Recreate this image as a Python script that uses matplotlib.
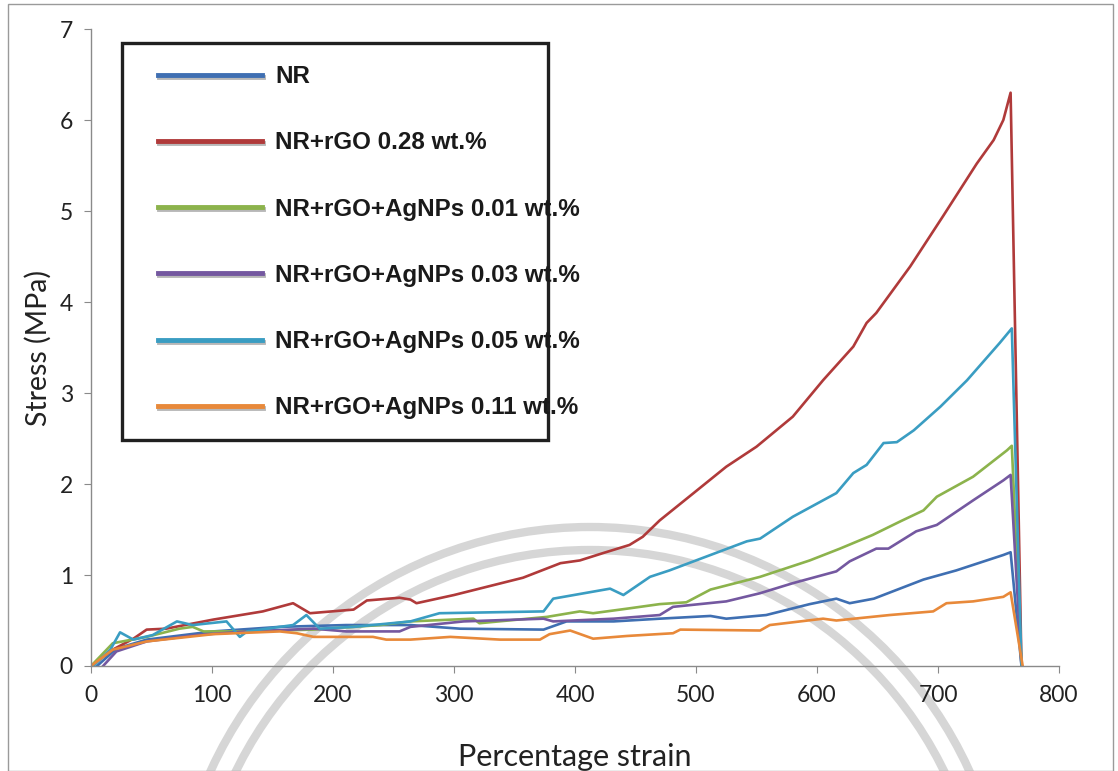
import matplotlib
matplotlib.use("Agg")
import matplotlib.pyplot as plt
import matplotlib.patheffects as pe
from matplotlib.patches import Rectangle, Arc

# ---- tensile test data: percentage strain vs stress (MPa) ----
nr_strain = [5, 21, 46, 101, 156, 211, 264, 305, 374, 393, 432, 470, 512, 525,
             558, 594, 616, 627, 647, 688, 715, 754, 760, 769]
nr_stress = [0, 0.19, 0.29, 0.38, 0.43, 0.45, 0.45, 0.41, 0.40, 0.49, 0.49, 0.52,
             0.55, 0.52, 0.56, 0.68, 0.74, 0.69, 0.74, 0.95, 1.05, 1.22, 1.25, 0]

rgo_strain = [0, 18, 35, 46, 62, 101, 142, 167, 181, 217, 228, 255, 264, 269, 300,
              357, 388, 404, 423, 445, 456, 470, 498, 525, 550, 580, 605, 630, 641,
              649, 677, 704, 732, 746, 754, 760, 769]
rgo_stress = [0, 0.18, 0.30, 0.40, 0.41, 0.51, 0.60, 0.69, 0.58, 0.62, 0.72, 0.75,
              0.73, 0.69, 0.78, 0.97, 1.13, 1.16, 1.24, 1.33, 1.42, 1.60, 1.90, 2.19,
              2.41, 2.74, 3.14, 3.51, 3.77, 3.88, 4.39, 4.94, 5.52, 5.78, 6.0, 6.3, 0]

ag01_strain = [0, 18, 46, 73, 84, 93, 129, 184, 239, 264, 316, 321, 377, 404, 415,
               443, 470, 492, 512, 553, 594, 619, 646, 669, 688, 699, 729, 757, 761, 769]
ag01_stress = [0, 0.25, 0.32, 0.41, 0.43, 0.38, 0.38, 0.40, 0.45, 0.49, 0.52, 0.47,
               0.54, 0.60, 0.58, 0.63, 0.68, 0.70, 0.84, 0.98, 1.16, 1.29, 1.44, 1.59,
               1.71, 1.86, 2.08, 2.37, 2.42, 0]

ag03_strain = [10, 21, 46, 87, 129, 184, 211, 255, 264, 308, 374, 382, 432, 470, 481,
               525, 553, 580, 616, 627, 649, 659, 682, 699, 729, 754, 760, 769]
ag03_stress = [0, 0.16, 0.27, 0.34, 0.38, 0.41, 0.38, 0.38, 0.43, 0.49, 0.52, 0.49,
               0.52, 0.56, 0.65, 0.71, 0.80, 0.91, 1.04, 1.15, 1.29, 1.29, 1.48, 1.55,
               1.82, 2.04, 2.10, 0]

ag05_strain = [2, 16, 24, 35, 51, 71, 84, 112, 123, 129, 167, 178, 189, 217, 264, 288,
               374, 382, 429, 440, 462, 478, 512, 542, 553, 580, 616, 630, 641, 655,
               666, 680, 702, 724, 751, 761, 769]
ag05_stress = [0, 0.18, 0.37, 0.29, 0.34, 0.49, 0.45, 0.49, 0.32, 0.38, 0.45, 0.56,
               0.41, 0.43, 0.49, 0.58, 0.60, 0.74, 0.85, 0.78, 0.98, 1.05, 1.22, 1.37,
               1.40, 1.64, 1.90, 2.12, 2.21, 2.45, 2.46, 2.59, 2.85, 3.14, 3.55, 3.71, 0]

ag11_strain = [0, 18, 46, 101, 156, 170, 184, 233, 244, 264, 297, 338, 371, 379, 396,
               415, 443, 481, 487, 553, 561, 605, 616, 660, 696, 707, 729, 754, 760, 770]
ag11_stress = [0, 0.18, 0.27, 0.35, 0.38, 0.36, 0.32, 0.32, 0.29, 0.29, 0.32, 0.29,
               0.29, 0.35, 0.39, 0.30, 0.33, 0.36, 0.40, 0.39, 0.45, 0.52, 0.50, 0.56,
               0.60, 0.69, 0.71, 0.76, 0.81, 0]

labels = ["NR", "NR+rGO 0.28 wt.%", "NR+rGO+AgNPs 0.01 wt.%",
          "NR+rGO+AgNPs 0.03 wt.%", "NR+rGO+AgNPs 0.05 wt.%", "NR+rGO+AgNPs 0.11 wt.%"]
colors = ["#3f6fb2", "#b03a3a", "#8cb34c", "#7458a0", "#3a9dc2", "#e8893a"]
x_ticks = [0, 100, 200, 300, 400, 500, 600, 700, 800]
y_ticks = [0, 1, 2, 3, 4, 5, 6, 7]

series = [(nr_strain, nr_stress), (rgo_strain, rgo_stress), (ag01_strain, ag01_stress),
          (ag03_strain, ag03_stress), (ag05_strain, ag05_stress), (ag11_strain, ag11_stress)]

fig = plt.figure(figsize=(11.18, 7.71), dpi=100)
fig.patch.set_facecolor("white")
W, H = 1118, 771

# faint emblem arcs in the background
for r, lw in [(417, 6.0), (394, 6.0)]:
    arc = Arc((590 / W, 1 - 944 / H), 2 * r / W, 2 * r / H, theta1=18, theta2=162,
              transform=fig.transFigure, color="#d6d6d6", lw=lw, zorder=0)
    fig.add_artist(arc)

ax = fig.add_axes([91 / W, 1 - 666 / H, 968 / W, 637 / H])
ax.patch.set_alpha(0)

for (xs, ys), c, lab in zip(series, colors, labels):
    ax.plot(xs, ys, color=c, lw=1.9, label=lab, solid_joinstyle="round")

ax.set_xlim(0, 800)
ax.set_ylim(0, 7)
ax.set_xticks(x_ticks)
ax.set_yticks(y_ticks)
for s in ["top", "right"]:
    ax.spines[s].set_visible(False)
for s in ["left", "bottom"]:
    ax.spines[s].set_color("#8a8a8a")
    ax.spines[s].set_linewidth(1.0)
ax.tick_params(direction="out", length=5, color="#8a8a8a", labelsize=16.5,
               labelcolor="#222222")
ax.tick_params(axis="x", pad=9)
ax.tick_params(axis="y", pad=8)
for t in ax.get_xticklabels() + ax.get_yticklabels():
    t.set_family("Lato")

ax.set_xlabel("Percentage strain", fontsize=22, family="Lato", color="#222222", labelpad=26)
ax.set_ylabel("Stress (MPa)", fontsize=20.5, family="Lato", color="#222222", labelpad=6)

# legend: entries without frame, box drawn separately
leg = ax.legend(loc="upper left", bbox_to_anchor=((158 - 91) / 968, (666 - 65) / 637),
                frameon=False, borderpad=0, borderaxespad=0, handlelength=4.3,
                handletextpad=0.55, labelspacing=1.79,
                prop={"family": "Liberation Sans", "weight": "bold", "size": 17.4})
for h in leg.get_lines():
    h.set_linewidth(3.5)
    h.set_path_effects([pe.SimpleLineShadow(offset=(0.5, -1.5), shadow_color="#888888",
                                            alpha=0.6), pe.Normal()])
for t in leg.get_texts():
    t.set_color("#1a1a1a")

box = Rectangle(((122 - 91) / 968, (666 - 440) / 637), (548 - 122) / 968, (440 - 43) / 637,
                transform=ax.transAxes, fill=False, edgecolor="#202020", lw=2.4,
                zorder=5, clip_on=False)
ax.add_patch(box)

# page border
fig.add_artist(Rectangle((8 / W, 0), (1113 - 8) / W, 1 - 4 / H, transform=fig.transFigure,
                         fill=False, edgecolor="#9a9a9a", lw=1.0))

fig.savefig("out.png", dpi=100)
